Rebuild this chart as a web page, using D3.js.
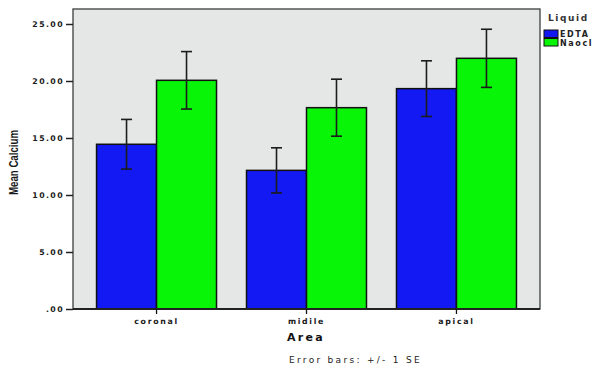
<!DOCTYPE html>
<html>
<head>
<meta charset="utf-8">
<script src="https://cdn.jsdelivr.net/npm/d3@7"></script>
<style>
  body { margin: 0; background: #fff; }
  svg { display: block; }
  .tick-label { font-family: "DejaVu Sans", sans-serif; font-weight: bold; }
</style>
</head>
<body>
<svg id="chart"></svg>
<script>
// data
var areas = ["coronal", "midile", "apical"];
var liquids = ["EDTA", "Naocl"];
var edtaMean = [14.45, 12.16, 19.33];
var edtaSE = [2.18, 1.98, 2.44];
var naoclMean = [20.06, 17.66, 21.99];
var naoclSE = [2.52, 2.5, 2.55];
var yTicks = [0, 5, 10, 15, 20, 25];

var colors = ["#1219f2", "#08f508"];

var svgWidth = 594, svgHeight = 373;
var plot = { left: 73, top: 9, right: 540, bottom: 309 };

// build rows for drawing
var rows = [];
for (var i = 0; i < areas.length; i++) {
    rows.push({ area: areas[i], liquid: "EDTA", mean: edtaMean[i], se: edtaSE[i] });
    rows.push({ area: areas[i], liquid: "Naocl", mean: naoclMean[i], se: naoclSE[i] });
}

var svg = d3.select("#chart")
    .attr("width", svgWidth)
    .attr("height", svgHeight);

// scales
var x0 = d3.scaleBand()
    .domain(areas)
    .range([plot.left, plot.right])
    .paddingInner(0.2)
    .paddingOuter(0.157);

var x1 = d3.scaleBand()
    .domain(liquids)
    .range([0, x0.bandwidth()]);

var y = d3.scaleLinear()
    .domain([0, 25])
    .range([plot.bottom, 24]);

var color = d3.scaleOrdinal().domain(liquids).range(colors);

// plot background
svg.append("rect")
    .attr("x", plot.left)
    .attr("y", plot.top)
    .attr("width", plot.right - plot.left)
    .attr("height", plot.bottom - plot.top)
    .attr("fill", "#e5e7e6")
    .attr("stroke", "#3a3f3e")
    .attr("stroke-width", 1.3);

// bars
svg.selectAll(".bar")
    .data(rows)
    .enter()
    .append("rect")
    .attr("class", "bar")
    .attr("x", function (d) { return x0(d.area) + x1(d.liquid); })
    .attr("y", function (d) { return y(d.mean); })
    .attr("width", x1.bandwidth())
    .attr("height", function (d) { return y(0) - y(d.mean); })
    .attr("fill", function (d) { return color(d.liquid); })
    .attr("stroke", "#111")
    .attr("stroke-width", 1.5);

// error bars (+/- 1 SE)
var err = svg.selectAll(".err")
    .data(rows)
    .enter()
    .append("g")
    .attr("class", "err")
    .attr("stroke", "#1c1c1c")
    .attr("stroke-width", 1.6);

function cx(d) { return x0(d.area) + x1(d.liquid) + x1.bandwidth() / 2; }

err.append("line")
    .attr("x1", cx).attr("x2", cx)
    .attr("y1", function (d) { return y(d.mean + d.se); })
    .attr("y2", function (d) { return y(d.mean - d.se); });
err.append("line")
    .attr("x1", function (d) { return cx(d) - 5.5; })
    .attr("x2", function (d) { return cx(d) + 5.5; })
    .attr("y1", function (d) { return y(d.mean + d.se); })
    .attr("y2", function (d) { return y(d.mean + d.se); });
err.append("line")
    .attr("x1", function (d) { return cx(d) - 5.5; })
    .attr("x2", function (d) { return cx(d) + 5.5; })
    .attr("y1", function (d) { return y(d.mean - d.se); })
    .attr("y2", function (d) { return y(d.mean - d.se); });

// y axis
var yAxis = svg.append("g")
    .attr("transform", "translate(" + plot.left + ",0)")
    .call(d3.axisLeft(y)
        .tickValues(yTicks)
        .tickSize(7)
        .tickPadding(2)
        .tickFormat(function (v) { return v === 0 ? ".00" : d3.format(".2f")(v); }));
yAxis.select(".domain").remove();
yAxis.selectAll("line").attr("stroke", "#222").attr("stroke-width", 1.5);
yAxis.selectAll("text")
    .attr("class", "tick-label")
    .style("font-size", "7.8px")
    .style("letter-spacing", "1.4px")
    .attr("fill", "#1a1a1a");

// x axis
var xAxis = svg.append("g")
    .attr("transform", "translate(0," + plot.bottom + ")")
    .call(d3.axisBottom(x0).tickSize(5).tickPadding(4));
xAxis.select(".domain").attr("stroke", "#222").attr("stroke-width", 1.8)
    .attr("d", "M" + plot.left + ",0H" + plot.right);
xAxis.selectAll("line").attr("stroke", "#111").attr("stroke-width", 1.3);
xAxis.selectAll("text")
    .attr("class", "tick-label")
    .style("font-size", "7.8px")
    .style("letter-spacing", "1.7px")
    .attr("fill", "#1a1a1a");

// axis titles
svg.append("text")
    .attr("transform", "translate(18," + 162.5 + ") rotate(-90)")
    .attr("text-anchor", "middle")
    .attr("textLength", 65)
    .attr("lengthAdjust", "spacingAndGlyphs")
    .style("font-family", "'Liberation Sans', Arial, sans-serif")
    .style("font-weight", "bold")
    .style("font-size", "12.5px")
    .attr("fill", "#1a1a1a")
    .text("Mean Calcium");

svg.append("text")
    .attr("x", 306)
    .attr("y", 341)
    .attr("text-anchor", "middle")
    .style("font-family", "'DejaVu Sans', sans-serif")
    .style("font-weight", "bold")
    .style("font-size", "11px")
    .style("letter-spacing", "2.3px")
    .attr("fill", "#111")
    .text("Area");

svg.append("text")
    .attr("x", 289)
    .attr("y", 363)
    .style("font-family", "'DejaVu Sans', sans-serif")
    .style("font-size", "9px")
    .style("letter-spacing", "2.3px")
    .attr("fill", "#222")
    .text("Error bars: +/- 1 SE");

// legend
var legend = svg.append("g");
legend.append("text")
    .attr("x", 548)
    .attr("y", 21)
    .style("font-family", "'DejaVu Sans', sans-serif")
    .style("font-weight", "bold")
    .style("font-size", "9px")
    .style("letter-spacing", "1.6px")
    .attr("fill", "#333")
    .text("Liquid");

var items = legend.selectAll(".item")
    .data(liquids)
    .enter()
    .append("g")
    .attr("class", "item")
    .attr("transform", function (d, i) { return "translate(544," + (30 + i * 8.5) + ")"; });
items.append("rect")
    .attr("width", 14)
    .attr("height", 7.5)
    .attr("fill", function (d) { return color(d); })
    .attr("stroke", "#111")
    .attr("stroke-width", 1);
items.append("text")
    .attr("x", 16)
    .attr("y", 7)
    .style("font-family", "'DejaVu Sans', sans-serif")
    .style("font-weight", "bold")
    .style("font-size", "8px")
    .style("letter-spacing", "1.6px")
    .attr("fill", "#222")
    .text(function (d) { return d; });
</script>
</body>
</html>
